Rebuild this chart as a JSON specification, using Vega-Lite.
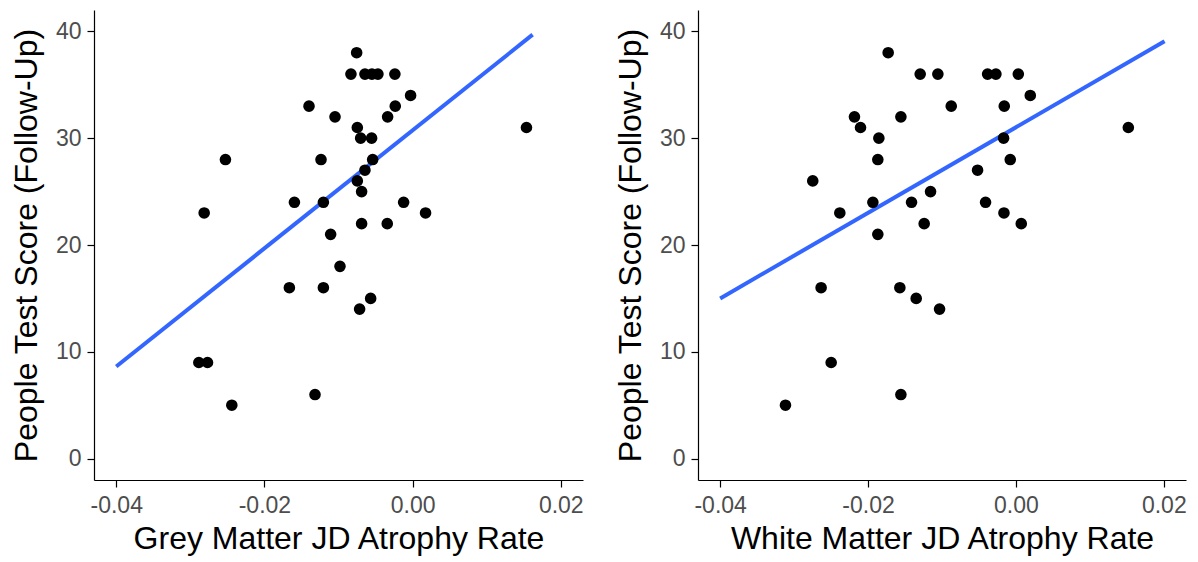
{
  "$schema": "https://vega.github.io/schema/vega-lite/v6.json",
  "background": "white",
  "padding": {"left": 10, "top": 10, "right": 5, "bottom": 5},
  "spacing": 30,
  "datasets": {
    "grey": [
      {"x": -0.00755, "y": 38},
      {"x": -0.00832, "y": 36}, {"x": -0.00643, "y": 36}, {"x": -0.00549, "y": 36}, {"x": -0.00468, "y": 36}, {"x": -0.00239, "y": 36},
      {"x": -0.00027, "y": 34},
      {"x": -0.01398, "y": 33}, {"x": -0.00234, "y": 33},
      {"x": -0.01047, "y": 32}, {"x": -0.00337, "y": 32},
      {"x": -0.00746, "y": 31}, {"x": 0.01537, "y": 31},
      {"x": -0.00701, "y": 30}, {"x": -0.00553, "y": 30},
      {"x": -0.02526, "y": 28}, {"x": -0.01236, "y": 28}, {"x": -0.00539, "y": 28},
      {"x": -0.00643, "y": 27},
      {"x": -0.00746, "y": 26},
      {"x": -0.00688, "y": 25},
      {"x": -0.01595, "y": 24}, {"x": -0.01204, "y": 24}, {"x": -0.00121, "y": 24},
      {"x": -0.02813, "y": 23}, {"x": 0.00175, "y": 23},
      {"x": -0.00688, "y": 22}, {"x": -0.00342, "y": 22},
      {"x": -0.01106, "y": 21},
      {"x": -0.0098, "y": 18},
      {"x": -0.01663, "y": 16}, {"x": -0.01204, "y": 16},
      {"x": -0.00566, "y": 15},
      {"x": -0.00715, "y": 14},
      {"x": -0.02885, "y": 9}, {"x": -0.02768, "y": 9},
      {"x": -0.01317, "y": 6},
      {"x": -0.0244, "y": 5}
    ],
    "white": [
      {"x": -0.01728, "y": 38},
      {"x": -0.01295, "y": 36}, {"x": -0.01056, "y": 36}, {"x": -0.00383, "y": 36}, {"x": -0.00271, "y": 36}, {"x": 0.00032, "y": 36},
      {"x": 0.00194, "y": 34},
      {"x": -0.00875, "y": 33}, {"x": -0.00158, "y": 33},
      {"x": -0.02184, "y": 32}, {"x": -0.01556, "y": 32},
      {"x": -0.02102, "y": 31}, {"x": 0.0152, "y": 31},
      {"x": -0.01854, "y": 30}, {"x": -0.00167, "y": 30},
      {"x": -0.01868, "y": 28}, {"x": -0.00077, "y": 28},
      {"x": -0.00519, "y": 27},
      {"x": -0.02748, "y": 26},
      {"x": -0.01155, "y": 25},
      {"x": -0.01935, "y": 24}, {"x": -0.01412, "y": 24}, {"x": -0.00411, "y": 24},
      {"x": -0.02382, "y": 23}, {"x": -0.00162, "y": 23},
      {"x": -0.01241, "y": 22}, {"x": 0.00072, "y": 22},
      {"x": -0.01868, "y": 21},
      {"x": -0.02635, "y": 16}, {"x": -0.0157, "y": 16},
      {"x": -0.01349, "y": 15},
      {"x": -0.01033, "y": 14},
      {"x": -0.02499, "y": 9},
      {"x": -0.01556, "y": 6},
      {"x": -0.03117, "y": 5}
    ],
    "greyfit": [{"x": -0.04, "y": 8.63}, {"x": 0.0162, "y": 39.69}],
    "whitefit": [{"x": -0.04, "y": 15.0}, {"x": 0.0201, "y": 39.07}]
  },
  "hconcat": [
    {
      "width": 489,
      "height": 470,
      "layer": [
        {
          "data": {"name": "greyfit"},
          "mark": {"type": "line", "color": "#3366FF", "strokeWidth": 4, "strokeCap": "butt"},
          "encoding": {
            "x": {"field": "x", "type": "quantitative"},
            "y": {"field": "y", "type": "quantitative"}
          }
        },
        {
          "data": {"name": "grey"},
          "mark": {"type": "circle", "color": "black", "opacity": 1, "size": 135},
          "encoding": {
            "x": {"field": "x", "type": "quantitative", "title": "Grey Matter JD Atrophy Rate",
              "scale": {"domain": [-0.043, 0.023], "nice": false, "zero": false},
              "axis": {"values": [-0.04, -0.02, 0, 0.02], "labelExpr": "replace(format(datum.value, '.2f'), '\u2212', '-')"}},
            "y": {"field": "y", "type": "quantitative", "title": "People Test Score (Follow-Up)",
              "scale": {"domain": [-2, 42], "nice": false, "zero": false},
              "axis": {"values": [0, 10, 20, 30, 40]}}
          }
        }
      ]
    },
    {
      "width": 488,
      "height": 470,
      "layer": [
        {
          "data": {"name": "whitefit"},
          "mark": {"type": "line", "color": "#3366FF", "strokeWidth": 4, "strokeCap": "butt"},
          "encoding": {
            "x": {"field": "x", "type": "quantitative"},
            "y": {"field": "y", "type": "quantitative"}
          }
        },
        {
          "data": {"name": "white"},
          "mark": {"type": "circle", "color": "black", "opacity": 1, "size": 135},
          "encoding": {
            "x": {"field": "x", "type": "quantitative", "title": "White Matter JD Atrophy Rate",
              "scale": {"domain": [-0.043, 0.023], "nice": false, "zero": false},
              "axis": {"values": [-0.04, -0.02, 0, 0.02], "labelExpr": "replace(format(datum.value, '.2f'), '\u2212', '-')"}},
            "y": {"field": "y", "type": "quantitative", "title": "People Test Score (Follow-Up)",
              "scale": {"domain": [-2, 42], "nice": false, "zero": false},
              "axis": {"values": [0, 10, 20, 30, 40]}}
          }
        }
      ]
    }
  ],
  "config": {
    "view": {"stroke": null},
    "axis": {
      "grid": false,
      "domainColor": "black",
      "domainWidth": 1.2,
      "tickColor": "black",
      "tickWidth": 1.2,
      "tickSize": 7,
      "labelFont": "Liberation Sans",
      "labelFontSize": 23,
      "labelColor": "#4D4D4D",
      "titleFont": "Liberation Sans",
      "titleFontSize": 32,
      "titleFontWeight": "normal",
      "titleColor": "black"
    },
    "axisX": {"titlePadding": 6, "labelPadding": 7},
    "axisY": {"titlePadding": 12, "labelPadding": 6}
  }
}
